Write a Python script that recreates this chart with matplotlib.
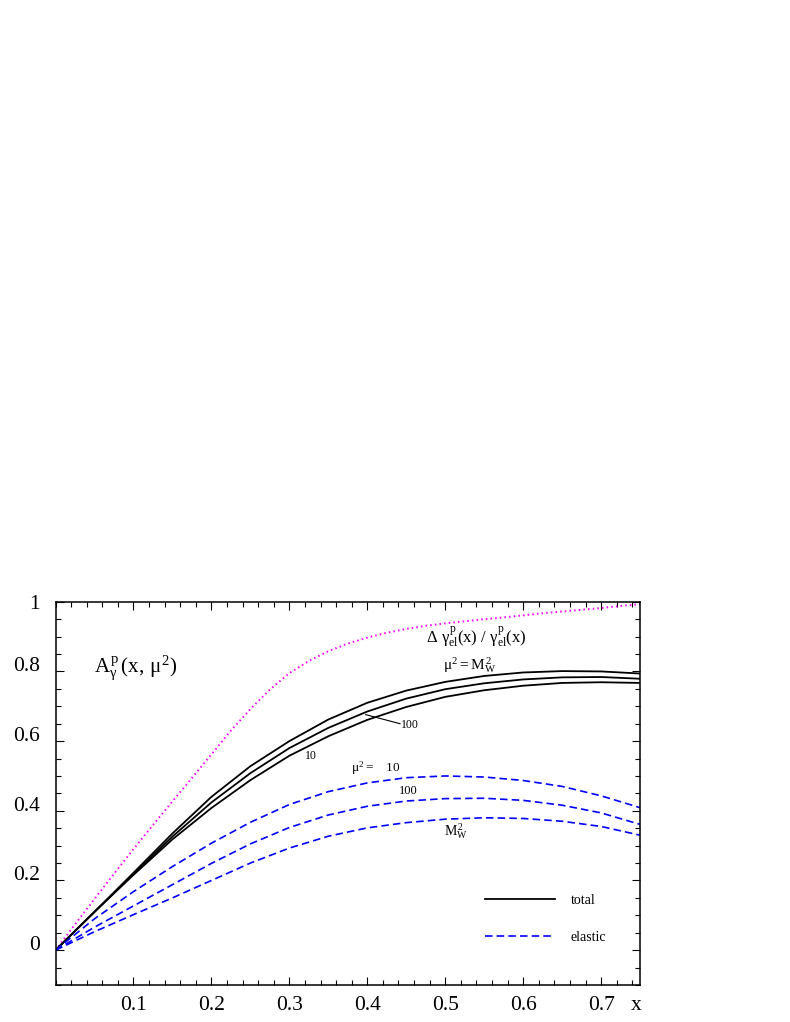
import matplotlib
matplotlib.use("Agg")
import matplotlib.pyplot as plt
import matplotlib.transforms as mtransforms
from matplotlib.ticker import MultipleLocator, FixedLocator

plt.rcParams['font.family'] = ['Liberation Serif', 'DejaVu Serif']
plt.rcParams['mathtext.fontset'] = 'custom'
plt.rcParams['mathtext.rm'] = 'Liberation Serif'
plt.rcParams['mathtext.it'] = 'Liberation Serif'
plt.rcParams['mathtext.bf'] = 'Liberation Serif:bold'

# ---- data ----
x_vals = [0.0, 0.05, 0.10, 0.15, 0.20, 0.25, 0.30, 0.35, 0.40, 0.45, 0.50,
          0.55, 0.60, 0.65, 0.70, 0.75]

# Delta gamma_el / gamma_el (magenta dotted), read on a finer grid
x_ratio = [0.0, 0.025, 0.05, 0.075, 0.10, 0.125, 0.15, 0.175, 0.20, 0.225,
           0.25, 0.275, 0.30, 0.325, 0.35, 0.375, 0.40, 0.425, 0.45, 0.475,
           0.50, 0.525, 0.55, 0.575, 0.60, 0.625, 0.65, 0.675, 0.70, 0.725, 0.75]
ratio_el = [0.0, 0.074, 0.147, 0.219, 0.290, 0.359, 0.427, 0.494, 0.562, 0.630,
            0.692, 0.748, 0.795, 0.830, 0.858, 0.880, 0.897, 0.911, 0.922, 0.931,
            0.938, 0.944, 0.950, 0.955, 0.961, 0.967, 0.972, 0.977, 0.982, 0.988,
            0.993]

# total, mu^2 = M_W^2 / 100 / 10
total_mw = [0.0, 0.110, 0.222, 0.335, 0.440, 0.528, 0.600, 0.662, 0.710, 0.745,
            0.770, 0.787, 0.797, 0.801, 0.800, 0.794]
total_100 = [0.0, 0.110, 0.219, 0.326, 0.424, 0.508, 0.580, 0.638, 0.685, 0.722,
             0.749, 0.766, 0.777, 0.783, 0.784, 0.779]
total_10 = [0.0, 0.110, 0.216, 0.318, 0.408, 0.488, 0.558, 0.614, 0.661, 0.698,
            0.727, 0.746, 0.759, 0.767, 0.769, 0.767]

# elastic, mu^2 = 10 / 100 / M_W^2
elastic_10 = [0.0, 0.090, 0.168, 0.240, 0.307, 0.367, 0.418, 0.455, 0.480, 0.495,
              0.500, 0.497, 0.487, 0.470, 0.443, 0.409]
elastic_100 = [0.0, 0.066, 0.127, 0.188, 0.249, 0.305, 0.352, 0.388, 0.413, 0.428,
               0.435, 0.436, 0.430, 0.416, 0.394, 0.361]
elastic_mw = [0.0, 0.053, 0.102, 0.150, 0.200, 0.250, 0.293, 0.327, 0.351, 0.366,
              0.376, 0.380, 0.378, 0.370, 0.355, 0.330]

y_ticks = [0, 0.2, 0.4, 0.6, 0.8, 1.0]
y_labels = ['0', '0.2', '0.4', '0.6', '0.8', '1']
x_ticks = [0.1, 0.2, 0.3, 0.4, 0.5, 0.6, 0.7]
x_labels = ['0.1', '0.2', '0.3', '0.4', '0.5', '0.6', '0.7']

# ---- figure ----
fig = plt.figure(figsize=(7.9, 10.22), dpi=100)
ax = fig.add_axes([0.0703, 0.0362, 0.7399, 0.375])

ax.plot(x_ratio, ratio_el, color='#ff00ff', lw=1.4, ls=(0, (0.8, 1.6)))

tot_lines = []
for ys in (total_mw, total_100, total_10):
    ln, = ax.plot(x_vals, ys, color='black', lw=1.3)
    tot_lines.append(ln)

el_lines = []
for ys in (elastic_10, elastic_100, elastic_mw):
    ln, = ax.plot(x_vals, ys, color='#0000ff', lw=1.2, ls=(0, (4.5, 2.5)))
    el_lines.append(ln)

ax.set_xlim(0, 0.75)
ax.set_ylim(-0.1, 1.0)

ax.xaxis.set_major_locator(FixedLocator(x_ticks))
ax.set_xticklabels(x_labels)
ax.xaxis.set_minor_locator(MultipleLocator(0.02))
ax.yaxis.set_major_locator(FixedLocator(y_ticks))
ax.set_yticklabels(y_labels)
ax.yaxis.set_minor_locator(MultipleLocator(0.05))

ax.tick_params(which='both', direction='in', top=True, right=True, width=0.8)
ax.tick_params(which='major', length=5.8, labelsize=15.5)
ax.tick_params(which='minor', length=3.6)
ax.tick_params(axis='x', pad=8)
ax.tick_params(axis='y', pad=11)
for s in ax.spines.values():
    s.set_linewidth(1.1)

# y labels sit a little above their ticks
shift = mtransforms.ScaledTranslation(0, 7 / 100, fig.dpi_scale_trans)
for lab in ax.get_yticklabels():
    if lab.get_text() != '1':
        lab.set_transform(lab.get_transform() + shift)

ax.text(0.993, -0.054, 'x', transform=ax.transAxes, fontsize=15.5,
        ha='center', va='center')

# ---- annotations ----
ax.text(0.049, 0.81, r'$A^p_\gamma\,(x,\,\mu^2)$', fontsize=15, va='center')
ax.text(0.54, 0.899, r'$\Delta\ \gamma^p_{el}(x)\ /\ \gamma^p_{el}(x)$',
        fontsize=12, ha='center', va='center')
ax.text(0.531, 0.818, r'$\mu^2 = M^2_W$', fontsize=11, ha='center', va='center')
ax.plot([0.398, 0.442], [0.676, 0.650], color='black', lw=0.8)
ax.text(0.455, 0.645, '100', fontsize=8.5, ha='center', va='center')
ax.text(0.328, 0.556, '10', fontsize=8.5, ha='center', va='center')
ax.text(0.411, 0.521, r'$\mu^2 =\ \ \ 10$', fontsize=9.5, ha='center', va='center')
ax.text(0.452, 0.456, '100', fontsize=9, ha='center', va='center')
ax.text(0.514, 0.343, r'$M^2_W$', fontsize=10, ha='center', va='center')

ax.legend([tot_lines[0], el_lines[0]], ['total', 'elastic'], frameon=False,
          loc='center left', bbox_to_anchor=(0.723, 0.172), fontsize=10,
          handlelength=5.0, handletextpad=1.15, labelspacing=1.75, borderpad=0)

fig.savefig('out.png', dpi=100)
